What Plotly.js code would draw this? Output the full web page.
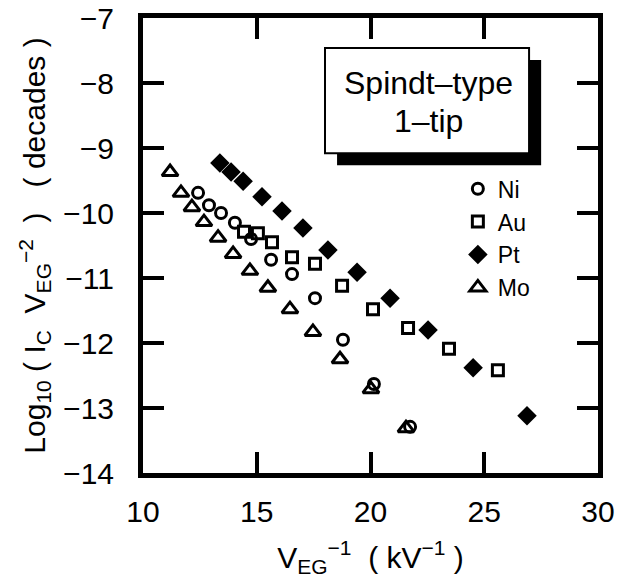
<!DOCTYPE html>
<html>
<head>
<meta charset="utf-8">
<script src="https://cdn.plot.ly/plotly-3.0.1.min.js"></script>
<style>html,body{margin:0;padding:0;background:#fff;}#chart{width:618px;height:578px;}</style>
</head>
<body>
<div id="chart"></div>
<script>
// Ni (open circles)
const niX = [12.42, 12.90, 13.43, 14.04, 14.75, 15.63, 16.55, 17.56, 18.79, 20.15, 21.74];
const niY = [-9.69, -9.88, -10.00, -10.15, -10.40, -10.72, -10.94, -11.31, -11.95, -12.63, -13.29];
// Au (open squares)
const auX = [14.44, 15.05, 15.67, 16.55, 17.56, 18.75, 20.11, 21.65, 23.45, 25.60];
const auY = [-10.29, -10.31, -10.45, -10.68, -10.78, -11.12, -11.48, -11.77, -12.09, -12.42];
// Pt (filled diamonds)
const ptX = [13.38, 13.87, 14.40, 15.23, 16.11, 17.03, 18.13, 19.41, 20.86, 22.53, 24.51, 26.88];
const ptY = [-9.23, -9.37, -9.51, -9.75, -9.97, -10.23, -10.57, -10.91, -11.31, -11.80, -12.38, -13.12];
// Mo (open triangles)
const moX = [11.19, 11.67, 12.15, 12.68, 13.30, 13.96, 14.70, 15.49, 16.46, 17.47, 18.66, 20.02, 21.56];
const moY = [-9.37, -9.69, -9.91, -10.14, -10.38, -10.63, -10.89, -11.15, -11.48, -11.83, -12.25, -12.71, -13.31];

const xTicks = [10, 15, 20, 25, 30];
const yTicks = [-14, -13, -12, -11, -10, -9, -8, -7];
const boxLines = ["Spindt\u2013type", "1\u2013tip"];

const FONT = '"Liberation Sans", Arial, Helvetica, sans-serif';
const NB = '\u00a0';

const traces = [
  {x: niX, y: niY, name: 'Ni', mode: 'markers', type: 'scatter',
   marker: {symbol: 'circle-open', size: 11, color: '#000', line: {width: 3, color: '#000'}}},
  {x: auX, y: auY, name: 'Au', mode: 'markers', type: 'scatter',
   marker: {symbol: 'square-open', size: 11, color: '#000', line: {width: 3, color: '#000'}}},
  {x: ptX, y: ptY, name: 'Pt', mode: 'markers', type: 'scatter',
   marker: {symbol: 'diamond', size: 15, color: '#000', line: {width: 0}}},
  {x: moX, y: moY, name: 'Mo', mode: 'markers', type: 'scatter',
   marker: {symbol: 'triangle-up-open', size: 14, color: '#000', line: {width: 3, color: '#000'}}}
];

const axisCommon = {
  showgrid: false, zeroline: false,
  showline: true, linecolor: '#000', linewidth: 5, mirror: 'ticks',
  ticks: 'inside', ticklen: 21, tickwidth: 4, tickcolor: '#000',
  tickfont: {family: FONT, size: 30, color: '#000'},
  fixedrange: true
};

const layout = {
  width: 618, height: 578,
  margin: {l: 143, r: 20, t: 18, b: 105},
  paper_bgcolor: '#fff', plot_bgcolor: '#fff',
  font: {family: FONT, color: '#000'},
  showlegend: true,
  legend: {x: 0.692, y: 0.672, xanchor: 'left', yanchor: 'top',
           font: {family: FONT, size: 23, color: '#000'}, bgcolor: 'rgba(0,0,0,0)', borderwidth: 0},
  xaxis: Object.assign({}, axisCommon, {
    range: [10, 30], tickvals: xTicks, ticktext: xTicks.map(String),
    ticklabelstandoff: 8,
    title: {text: 'V<sub>EG</sub><sup>\u22121</sup>' + NB + NB + '( kV<sup>\u22121</sup> )',
            font: {family: FONT, size: 30, color: '#000'}, standoff: 34}
  }),
  yaxis: Object.assign({}, axisCommon, {
    range: [-14, -7], tickvals: yTicks, ticktext: yTicks.map(v => '\u2212' + Math.abs(v)),
    ticklabelstandoff: 18,
    title: {text: 'Log<sub>10</sub>' + NB + '(' + NB + 'I<sub>C</sub>' + NB + NB + 'V<sub>EG</sub><sup>\u22122</sup>' + NB + NB + ')' + NB + NB + NB + '(' + NB + 'decades' + NB + ')',
            font: {family: FONT, size: 30, color: '#000'}, standoff: 10}
  }),
  shapes: [
    {type: 'rect', xref: 'x', yref: 'y', x0: 18.53, x1: 27.5, y0: -7.645, y1: -9.265,
     fillcolor: '#000', line: {width: 0}, layer: 'above'},
    {type: 'rect', xref: 'x', yref: 'y', x0: 18.0, x1: 26.97, y0: -7.46, y1: -9.08,
     fillcolor: '#fff', line: {width: 2, color: '#000'}, layer: 'above'}
  ],
  annotations: [
    {xref: 'x', yref: 'y', x: 22.55, y: -8.0, text: boxLines[0], showarrow: false,
     font: {family: FONT, size: 32, color: '#000'}},
    {xref: 'x', yref: 'y', x: 22.55, y: -8.58, text: boxLines[1], showarrow: false,
     font: {family: FONT, size: 32, color: '#000'}}
  ]
};

Plotly.newPlot('chart', traces, layout, {displayModeBar: false, staticPlot: true});
</script>
</body>
</html>
